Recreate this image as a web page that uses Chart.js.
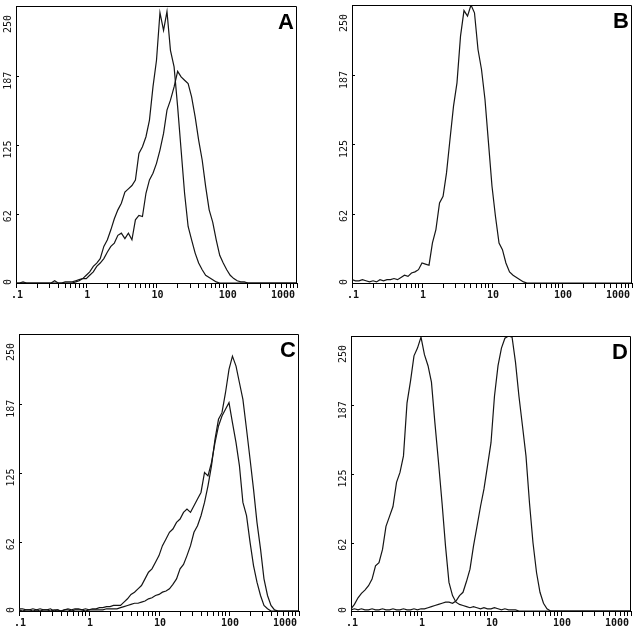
<!DOCTYPE html>
<html>
<head>
<meta charset="utf-8">
<script src="https://cdn.jsdelivr.net/npm/chart.js@4.4.1/dist/chart.umd.min.js"></script>
<style>
  html, body { margin: 0; padding: 0; background: #fff; }
  #wrap { position: relative; width: 636px; height: 633px; }
  canvas { position: absolute; }
</style>
</head>
<body>
<div id="wrap">
  <canvas id="panel-a" width="318" height="316" style="left:0;top:0"></canvas>
  <canvas id="panel-b" width="318" height="316" style="left:318px;top:0"></canvas>
  <canvas id="panel-c" width="318" height="317" style="left:0;top:316px"></canvas>
  <canvas id="panel-d" width="318" height="317" style="left:318px;top:316px"></canvas>
</div>
<script>
// canales (escala log, 0.1 - 1000)
const channels = [
  0.1, 0.112, 0.126, 0.141, 0.158, 0.178, 0.2, 0.224, 0.251, 0.282,
  0.316, 0.355, 0.398, 0.447, 0.501, 0.562, 0.631, 0.708, 0.794, 0.891,
  1, 1.12, 1.26, 1.41, 1.58, 1.78, 2, 2.24, 2.51, 2.82,
  3.16, 3.55, 3.98, 4.47, 5.01, 5.62, 6.31, 7.08, 7.94, 8.91,
  10, 11.2, 12.6, 14.1, 15.8, 17.8, 20, 22.4, 25.1, 28.2,
  31.6, 35.5, 39.8, 44.7, 50.1, 56.2, 63.1, 70.8, 79.4, 89.1,
  100, 112, 126, 141, 158, 178, 200, 224, 251, 282,
  316, 355, 398, 447, 501, 562, 631, 708, 794, 891,
  1000
];

const xTickValues = [
  0.1, 0.2, 0.3, 0.4, 0.5, 0.6, 0.7, 0.8, 0.9,
  1, 2, 3, 4, 5, 6, 7, 8, 9,
  10, 20, 30, 40, 50, 60, 70, 80, 90,
  100, 200, 300, 400, 500, 600, 700, 800, 900,
  1000
];
const xLabelValues = [0.1, 1, 10, 100, 1000];
const xTickLabels = ['.1', '1', '10', '100', '1000'];
const yTicks = [0, 62, 125, 187, 250];
const yTickLabels = ['0', '62', '125', '187', '250'];

// Panel A
const histA1 = [
  0, 0, 1, 0, 0, 0, 0, 0, 0, 0,
  0, 2, 0, 0, 1, 1, 1, 2, 3, 4,
  7, 10, 15, 18, 22, 33, 39, 48, 58, 66,
  72, 82, 85, 88, 93, 117, 123, 132, 147, 177,
  201, 244, 228, 245, 210, 195, 159, 120, 81, 51,
  39, 27, 18, 12, 7, 5, 3, 1, 0, 0,
  0, 0, 0, 0, 0, 0, 0, 0, 0, 0,
  0, 0, 0, 0, 0, 0, 0, 0, 0, 0,
  0
];
const histA2 = [
  0, 0, 0, 0, 0, 0, 0, 0, 0, 0,
  0, 0, 0, 0, 0, 0, 0, 1, 2, 4,
  4, 7, 10, 15, 18, 22, 28, 33, 36, 43,
  45, 40, 45, 39, 57, 61, 60, 81, 93, 99,
  108, 120, 135, 156, 165, 177, 191, 186, 183, 180,
  168, 150, 129, 111, 87, 66, 55, 39, 25, 18,
  12, 7, 4, 2, 1, 1, 0, 0, 0, 0,
  0, 0, 0, 0, 0, 0, 0, 0, 0, 0,
  0
];

// Panel B
const histB = [
  3, 2, 2, 3, 2, 1, 2, 1, 3, 2,
  3, 3, 4, 3, 5, 7, 6, 9, 10, 12,
  18, 17, 16, 36, 48, 72, 78, 99, 129, 159,
  180, 222, 245, 240, 250, 243, 210, 192, 165, 126,
  87, 60, 36, 30, 18, 10, 7, 5, 3, 1,
  0, 0, 0, 0, 0, 0, 0, 0, 0, 0,
  0, 0, 0, 0, 0, 0, 0, 0, 0, 0,
  0, 0, 0, 0, 0, 0, 0, 0, 0, 0,
  0
];

// Panel C
const histC1 = [
  2, 2, 1, 1, 2, 1, 2, 1, 1, 2,
  0, 1, 0, 1, 2, 1, 2, 2, 1, 2,
  1, 2, 2, 3, 3, 4, 4, 5, 5, 5,
  8, 11, 15, 17, 20, 23, 29, 35, 38, 44,
  50, 59, 65, 71, 74, 80, 83, 89, 92, 89,
  95, 101, 107, 125, 122, 134, 152, 167, 176, 182,
  188, 170, 152, 131, 98, 86, 62, 41, 26, 14,
  5, 2, 0, 0, 0, 0, 0, 0, 0, 0,
  0
];
const histC2 = [
  1, 0, 1, 1, 0, 1, 0, 1, 1, 0,
  1, 1, 0, 1, 1, 0, 1, 1, 1, 0,
  1, 1, 1, 1, 1, 2, 2, 2, 2, 3,
  4, 5, 6, 7, 7, 8, 9, 11, 12, 14,
  15, 17, 18, 20, 24, 29, 38, 42, 50, 59,
  71, 77, 86, 98, 113, 131, 155, 173, 179, 197,
  218, 230, 221, 206, 191, 164, 137, 110, 80, 56,
  29, 14, 5, 1, 0, 0, 0, 0, 0, 0,
  0
];

// Panel D
const histD1 = [
  2, 6, 12, 16, 19, 23, 29, 41, 44, 56,
  77, 86, 95, 117, 126, 141, 189, 209, 232, 239,
  249, 233, 223, 208, 171, 135, 98, 59, 26, 14,
  8, 6, 5, 4, 3, 4, 3, 2, 3, 2,
  2, 3, 2, 1, 2, 1, 1, 1, 0, 0,
  0, 0, 0, 0, 0, 0, 0, 0, 0, 0,
  0, 0, 0, 0, 0, 0, 0, 0, 0, 0,
  0, 0, 0, 0, 0, 0, 0, 0, 0, 0,
  0
];
const histD2 = [
  1, 2, 1, 2, 1, 1, 2, 1, 1, 2,
  1, 1, 2, 1, 1, 2, 1, 1, 2, 1,
  2, 2, 3, 4, 5, 6, 7, 8, 8, 7,
  9, 14, 17, 27, 38, 59, 77, 95, 111, 132,
  153, 195, 223, 239, 248, 250, 249, 226, 195, 168,
  141, 98, 62, 35, 17, 7, 2, 0, 0, 0,
  0, 0, 0, 0, 0, 0, 0, 0, 0, 0,
  0, 0, 0, 0, 0, 0, 0, 0, 0, 0,
  0
];

const panels = [
  { id: 'panel-a', letter: 'A', series: [histA1, histA2], box: { left: 16, top: 6, right: 21, bottom: 33 } },
  { id: 'panel-b', letter: 'B', series: [histB],          box: { left: 34, top: 5, right: 4, bottom: 33 } },
  { id: 'panel-c', letter: 'C', series: [histC1, histC2], box: { left: 19, top: 18, right: 19, bottom: 22 } },
  { id: 'panel-d', letter: 'D', series: [histD1, histD2], box: { left: 33, top: 20, right: 5, bottom: 22 } }
];

// marco, etiquetas de ejes y letra del panel
const frame = {
  id: 'frame',
  afterDraw(chart, args, opts) {
    const ctx = chart.ctx;
    const a = chart.chartArea;
    const x = chart.scales.x;
    const y = chart.scales.y;
    ctx.save();
    ctx.strokeStyle = '#000';
    ctx.lineWidth = 1;
    ctx.beginPath();
    const top = Math.round(a.top) + 0.5;
    const right = Math.round(a.right) - 0.5;
    ctx.moveTo(Math.round(a.left), top);
    ctx.lineTo(right, top);
    ctx.lineTo(right, Math.round(a.bottom));
    yTicks.forEach(function (v) {
      const py = Math.round(y.getPixelForValue(v)) + 0.5;
      ctx.moveTo(a.left, py);
      ctx.lineTo(a.left + 3, py);
    });
    ctx.stroke();

    ctx.fillStyle = '#111';
    ctx.font = 'bold 10px "DejaVu Sans Mono"';
    ctx.textBaseline = 'middle';
    xLabelValues.forEach(function (v, i) {
      const last = i === xLabelValues.length - 1;
      ctx.textAlign = last ? 'right' : 'center';
      ctx.fillText(xTickLabels[i], x.getPixelForValue(v) + (last ? -2 : 1), a.bottom + 12);
    });

    ctx.font = '10px "DejaVu Sans Mono"';
    ctx.textAlign = 'right';
    yTicks.forEach(function (v, i) {
      const py = Math.max(y.getPixelForValue(v) - 4, a.top + 9);
      ctx.save();
      ctx.translate(a.left - 8, py);
      ctx.rotate(-Math.PI / 2);
      ctx.fillText(yTickLabels[i], 0, 0);
      ctx.restore();
    });

    ctx.font = 'bold 22px "Liberation Sans"';
    ctx.textAlign = 'right';
    ctx.textBaseline = 'alphabetic';
    ctx.fillStyle = '#000';
    ctx.fillText(opts.letter, a.right - 3, a.top + 23);
    ctx.restore();
  }
};

panels.forEach(function (p) {
  new Chart(document.getElementById(p.id), {
    type: 'line',
    data: {
      labels: channels,
      datasets: p.series.map(function (s) {
        return { data: s, borderColor: '#151515', borderWidth: 1.2, pointRadius: 0, fill: false, tension: 0 };
      })
    },
    options: {
      responsive: false,
      animation: false,
      devicePixelRatio: 1,
      layout: { padding: { left: 0, top: p.box.top, right: p.box.right, bottom: 0 } },
      plugins: {
        legend: { display: false },
        tooltip: { enabled: false },
        frame: { letter: p.letter }
      },
      scales: {
        x: {
          type: 'logarithmic',
          min: 0.1,
          max: 1000,
          afterBuildTicks: function (s) { s.ticks = xTickValues.map(function (v) { return { value: v }; }); },
          afterFit: function (s) { s.height = p.box.bottom; },
          ticks: { display: false },
          grid: { drawOnChartArea: false, drawTicks: true, tickLength: 5, color: '#000', lineWidth: 1 },
          border: { display: true, color: '#000', width: 1 }
        },
        y: {
          min: 0,
          max: 250,
          afterFit: function (s) { s.width = p.box.left; },
          ticks: { display: false },
          grid: { display: false },
          border: { display: true, color: '#000', width: 1 }
        }
      }
    },
    plugins: [frame]
  });
});
</script>
</body>
</html>
